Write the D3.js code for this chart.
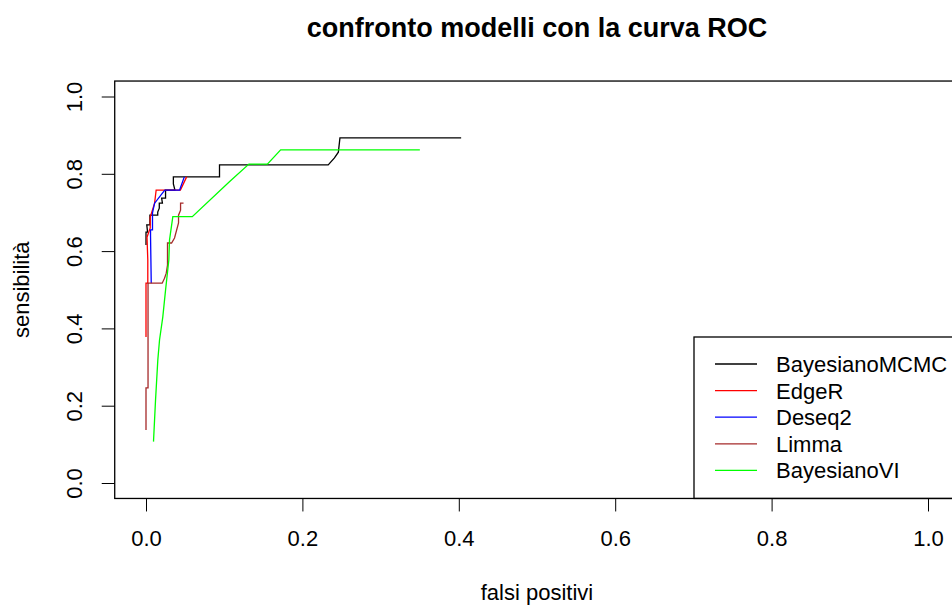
<!DOCTYPE html>
<html>
<head>
  <meta charset="utf-8">
  <script src="https://cdn.jsdelivr.net/npm/d3@7"></script>
  <style>
    body { margin: 0; background: #fff; overflow: hidden; }
    text { font-family: "Liberation Sans", Arial, sans-serif; fill: #000; }
  </style>
</head>
<body>
<script>
  "use strict";

  // curve data (false positive rate / sensitivity)
  var mcmcFpr = [0, 0, 0.002, 0.001, 0.005, 0.005, 0.015, 0.015, 0.017, 0.017, 0.021, 0.020, 0.025, 0.025, 0.037, 0.035, 0.035, 0.094, 0.094, 0.233, 0.241, 0.246, 0.248, 0.403];
  var mcmcTpr = [0.616, 0.649, 0.649, 0.668, 0.668, 0.693, 0.693, 0.701, 0.711, 0.724, 0.724, 0.737, 0.737, 0.758, 0.758, 0.774, 0.792, 0.792, 0.823, 0.823, 0.841, 0.856, 0.893, 0.893];

  var edgeFpr = [0, 0, 0.0023, 0.0023, 0.0013, 0.0054, 0.0054, 0.011, 0.013, 0.044, 0.052];
  var edgeTpr = [0.378, 0.517, 0.517, 0.577, 0.636, 0.660, 0.688, 0.724, 0.758, 0.758, 0.792];

  var deseqFpr = [0.0067, 0.0058, 0.0058, 0.0083, 0.0083, 0.011, 0.024, 0.043, 0.049];
  var deseqTpr = [0.517, 0.640, 0.655, 0.655, 0.699, 0.724, 0.758, 0.758, 0.792];

  var limmaFpr = [0, 0, 0.0026, 0.0026, 0.0207, 0.0237, 0.0259, 0.0275, 0.0275, 0.0327, 0.0365, 0.0416, 0.0416, 0.0442, 0.0442, 0.048];
  var limmaTpr = [0.137, 0.246, 0.246, 0.517, 0.517, 0.530, 0.543, 0.564, 0.621, 0.621, 0.634, 0.673, 0.693, 0.706, 0.724, 0.724];

  var viFpr = [0.0096, 0.0122, 0.0151, 0.0173, 0.0215, 0.025, 0.0292, 0.0301, 0.0343, 0.0592, 0.107, 0.1316, 0.1552, 0.1722, 0.3502];
  var viTpr = [0.107, 0.215, 0.318, 0.370, 0.430, 0.499, 0.577, 0.629, 0.689, 0.689, 0.780, 0.825, 0.825, 0.862, 0.862];

  var seriesNames = ["BayesianoMCMC", "EdgeR", "Deseq2", "Limma", "BayesianoVI"];
  var seriesColors = ["#000000", "#ff0000", "#0000ff", "#a52a2a", "#00ff00"];
  var tickValues = [0, 0.2, 0.4, 0.6, 0.8, 1.0];

  var allFpr = [mcmcFpr, edgeFpr, deseqFpr, limmaFpr, viFpr];
  var allTpr = [mcmcTpr, edgeTpr, deseqTpr, limmaTpr, viTpr];

  var W = 952, H = 605;

  var svg = d3.select("body")
    .append("svg")
    .attr("width", W)
    .attr("height", H);

  var x = d3.scaleLinear().domain([0, 1]).range([146, 928]);
  var y = d3.scaleLinear().domain([0, 1]).range([483, 96.5]);

  // plot box, with R's 4% padding
  var boxL = x(-0.04), boxR = x(1.04), boxT = y(1.04), boxB = y(-0.04);

  // title
  svg.append("text")
    .attr("x", (boxL + boxR) / 2)
    .attr("y", 37)
    .attr("text-anchor", "middle")
    .style("font-size", "27px")
    .style("font-weight", "bold")
    .text("confronto modelli con la curva ROC");

  // curves
  var line = d3.line()
    .x(function(d) { return x(d[0]); })
    .y(function(d) { return y(d[1]); });

  allFpr.forEach(function(fpr, i) {
    var pts = fpr.map(function(v, j) { return [v, allTpr[i][j]]; });
    svg.append("path")
      .datum(pts)
      .attr("d", line)
      .attr("fill", "none")
      .attr("stroke", seriesColors[i])
      .attr("stroke-width", 1.3);
  });

  // x axis
  var xAxis = svg.append("g")
    .attr("transform", "translate(0," + boxB + ")")
    .call(d3.axisBottom(x).tickValues(tickValues).tickSize(13).tickPadding(19)
      .tickFormat(d3.format(".1f")));
  xAxis.select(".domain").remove();
  xAxis.selectAll("text").style("font-size", "22px").attr("font-family", null);
  xAxis.selectAll("line").attr("stroke", "#000");

  // y axis, labels turned like in base R
  var yAxis = svg.append("g")
    .attr("transform", "translate(" + boxL + ",0)")
    .call(d3.axisLeft(y).tickValues(tickValues).tickSize(13)
      .tickFormat(d3.format(".1f")));
  yAxis.select(".domain").remove();
  yAxis.selectAll("line").attr("stroke", "#000");
  yAxis.selectAll("text")
    .attr("x", null)
    .attr("dy", null)
    .attr("text-anchor", "middle")
    .attr("transform", "translate(" + (82 - boxL) + ",0) rotate(-90)")
    .attr("font-family", null)
    .style("font-size", "22px");

  // box
  svg.append("rect")
    .attr("x", boxL)
    .attr("y", boxT)
    .attr("width", boxR - boxL)
    .attr("height", boxB - boxT)
    .attr("fill", "none")
    .attr("stroke", "#000")
    .attr("stroke-width", 1.3);

  // axis titles
  svg.append("text")
    .attr("x", (boxL + boxR) / 2)
    .attr("y", 600)
    .attr("text-anchor", "middle")
    .style("font-size", "22px")
    .text("falsi positivi");

  svg.append("text")
    .attr("transform", "translate(29," + ((boxT + boxB) / 2) + ") rotate(-90)")
    .attr("text-anchor", "middle")
    .style("font-size", "22px")
    .text("sensibilità");

  // legend (bottom right)
  var leg = svg.append("g");
  leg.append("rect")
    .attr("x", 694)
    .attr("y", 337)
    .attr("width", 300)
    .attr("height", boxB - 337)
    .attr("fill", "none")
    .attr("stroke", "#000")
    .attr("stroke-width", 1.3);

  seriesNames.forEach(function(name, i) {
    var ry = 364 + i * 26.6;
    leg.append("line")
      .attr("x1", 715).attr("x2", 757)
      .attr("y1", ry).attr("y2", ry)
      .attr("stroke", seriesColors[i])
      .attr("stroke-width", 1.3);
    leg.append("text")
      .attr("x", 776)
      .attr("y", ry + 8)
      .style("font-size", "22px")
      .text(name);
  });
</script>
</body>
</html>
